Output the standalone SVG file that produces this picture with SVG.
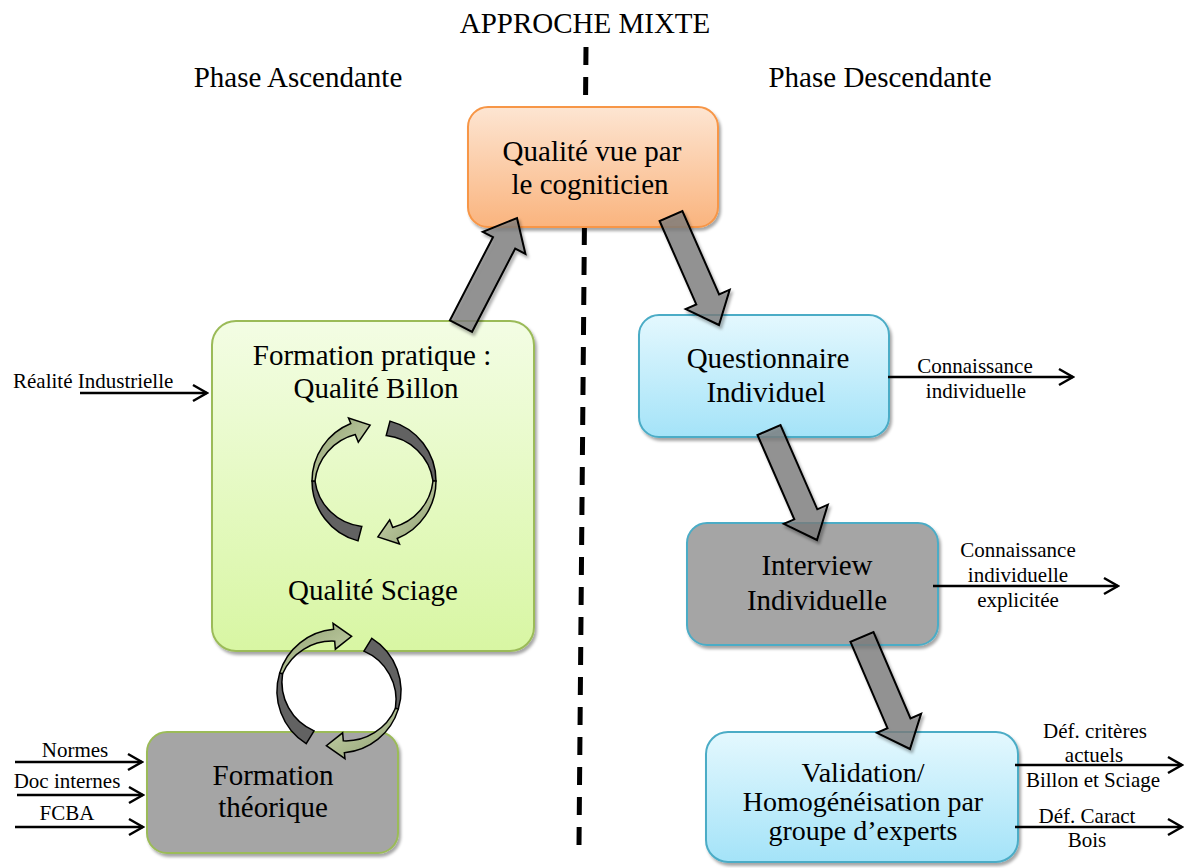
<svg xmlns="http://www.w3.org/2000/svg" width="1185" height="868" viewBox="0 0 1185 868">
<defs>
<linearGradient id="gOrange" x1="0" y1="0" x2="0" y2="1"><stop offset="0" stop-color="#fde5d2"/><stop offset="1" stop-color="#fab47e"/></linearGradient>
<linearGradient id="gGreen" x1="0" y1="0" x2="0" y2="1"><stop offset="0" stop-color="#f3fde4"/><stop offset="1" stop-color="#d8f6a3"/></linearGradient>
<linearGradient id="gBlue" x1="0" y1="0" x2="0" y2="1"><stop offset="0" stop-color="#e4f8fe"/><stop offset="1" stop-color="#a4e3f8"/></linearGradient>
<linearGradient id="gOlive" x1="0" y1="0" x2="1" y2="1"><stop offset="0" stop-color="#d3dfb8"/><stop offset="1" stop-color="#8e9e6f"/></linearGradient>
<filter id="sh" x="-10%" y="-10%" width="130%" height="130%"><feDropShadow dx="2" dy="3" stdDeviation="1.5" flood-color="#000" flood-opacity="0.35"/></filter>
<marker id="open" viewBox="-16 -10 18 20" refX="0" refY="0" markerWidth="18" markerHeight="20" markerUnits="userSpaceOnUse" orient="auto">
<path d="M -14 -8 L 0 0 L -14 8" fill="none" stroke="#000" stroke-width="2.5"/>
</marker>
<g id="cycle">
<path d="M 16 -59.9 A 62 62 0 0 1 62 0 L 59 0 A 53 53 0 0 0 12.2 -45.4 Z" fill="#626262" stroke="#000" stroke-width="1.5"/>
<path d="M 62 0 A 62 62 0 0 1 23.2 57.5 L 25.5 63 L 3.9 55.9 L 15.7 38.9 L 18.7 46.4 A 54 54 0 0 0 59 0 Z" fill="url(#gOlive)" stroke="#000" stroke-width="1.5"/>
<g transform="rotate(180)">
<path d="M 16 -59.9 A 62 62 0 0 1 62 0 L 59 0 A 53 53 0 0 0 12.2 -45.4 Z" fill="#626262" stroke="#000" stroke-width="1.5"/>
<path d="M 62 0 A 62 62 0 0 1 23.2 57.5 L 25.5 63 L 3.9 55.9 L 15.7 38.9 L 18.7 46.4 A 54 54 0 0 0 59 0 Z" fill="url(#gOlive)" stroke="#000" stroke-width="1.5"/>
</g>
</g>
</defs>
<style>
text{font-family:"Liberation Serif","Times New Roman",serif;fill:#000}
.big{font-size:29px;text-anchor:middle}
.mid{font-size:28px;text-anchor:middle}
.sm{font-size:21px}
.smc{font-size:21px;text-anchor:middle}
.box{stroke-width:2;filter:url(#sh)}
.blk{fill:#7f7f7f;fill-opacity:0.75;stroke:#000;stroke-width:2;stroke-linejoin:miter;filter:url(#sh)}
.ln{stroke:#000;stroke-width:2.5;fill:none;marker-end:url(#open)}
</style>
<rect width="1185" height="868" fill="#fff"/>

<text class="big" x="585" y="33">APPROCHE MIXTE</text>
<text class="big" x="298" y="87">Phase Ascendante</text>
<text class="big" x="880" y="87">Phase Descendante</text>

<line x1="586" y1="47" x2="579" y2="845" stroke="#000" stroke-width="5" stroke-dasharray="18 12"/>

<g id="n-qualite">
<rect class="box" x="468" y="107" width="250" height="120" rx="20" fill="url(#gOrange)" stroke="#f79646"/>
<text class="big" x="592" y="161">Qualité vue par</text>
<text class="big" x="590" y="194">le cogniticien</text>
</g>

<g id="n-pratique">
<rect class="box" x="212" y="321" width="322" height="330" rx="24" fill="url(#gGreen)" stroke="#9bbb59"/>
<text class="big" x="372" y="365">Formation pratique :</text>
<text class="big" x="376" y="398">Qualité Billon</text>
<text class="big" x="373" y="600">Qualité Sciage</text>
</g>

<g id="n-theorique">
<rect class="box" x="147" y="732" width="251" height="121" rx="20" fill="#a5a5a5" stroke="#9bbb59"/>
<text class="big" x="273" y="785">Formation</text>
<text class="big" x="273" y="817">théorique</text>
</g>

<g id="n-questionnaire">
<rect class="box" x="639" y="315" width="250" height="122" rx="20" fill="url(#gBlue)" stroke="#4bacc6"/>
<text class="big" x="768" y="368">Questionnaire</text>
<text class="big" x="766" y="402">Individuel</text>
</g>

<g id="n-interview">
<rect class="box" x="687" y="523" width="251" height="122" rx="20" fill="#a5a5a5" stroke="#4bacc6"/>
<text class="big" x="817" y="575">Interview</text>
<text class="big" x="817" y="610">Individuelle</text>
</g>

<g id="n-validation">
<rect class="box" x="706" y="732" width="312" height="130" rx="22" fill="url(#gBlue)" stroke="#4bacc6"/>
<text class="mid" x="863" y="782">Validation/</text>
<text class="mid" x="863" y="811">Homogénéisation par</text>
<text class="mid" x="863" y="840">groupe d’experts</text>
</g>

<g id="cycles">
<use href="#cycle" transform="translate(374 481)"/>
<use href="#cycle" transform="translate(339 691) rotate(17)"/>
</g>

<g id="connectors">
<polygon class="blk" points="472.1,331.8 515.2,248.6 525.4,253.8 517,218 482.8,231.8 493,237.1 449.9,320.3"/>
<polygon class="blk" points="659.6,221 696.3,304.4 685.7,309.1 719,325 729.7,289.7 719.1,294.4 682.4,211"/>
<polygon class="blk" points="757.5,435 794.3,519.3 783.8,523.9 817,540 827.8,504.7 817.3,509.3 780.5,425"/>
<polygon class="blk" points="850.5,641.9 887.5,728.2 876.9,732.8 910,749 921.1,713.8 910.5,718.4 873.5,632.1"/>

<line class="ln" x1="80" y1="393" x2="207" y2="393"/>
<line class="ln" x1="15" y1="762" x2="142" y2="762"/>
<line class="ln" x1="17" y1="795" x2="143" y2="795"/>
<line class="ln" x1="15" y1="827" x2="143" y2="827"/>
<line class="ln" x1="888" y1="377" x2="1073" y2="377"/>
<line class="ln" x1="933" y1="586" x2="1118" y2="586"/>
<line class="ln" x1="1015" y1="765" x2="1182" y2="765"/>
<line class="ln" x1="1015" y1="827" x2="1182" y2="827"/>
</g>

<g id="labels">
<text class="sm" x="13" y="388">Réalité Industrielle</text>
<text class="smc" x="75" y="757">Normes</text>
<text class="smc" x="67" y="788">Doc internes</text>
<text class="smc" x="67" y="820">FCBA</text>
<text class="smc" x="975" y="373">Connaissance</text>
<text class="smc" x="976" y="398">individuelle</text>
<text class="smc" x="1018" y="557">Connaissance</text>
<text class="smc" x="1018" y="582">individuelle</text>
<text class="smc" x="1018" y="607">explicitée</text>
<text class="smc" x="1095" y="738">Déf. critères</text>
<text class="smc" x="1094" y="762">actuels</text>
<text class="smc" x="1093" y="787">Billon et Sciage</text>
<text class="smc" x="1087" y="823">Déf. Caract</text>
<text class="smc" x="1087" y="847">Bois</text>
</g>
</svg>
